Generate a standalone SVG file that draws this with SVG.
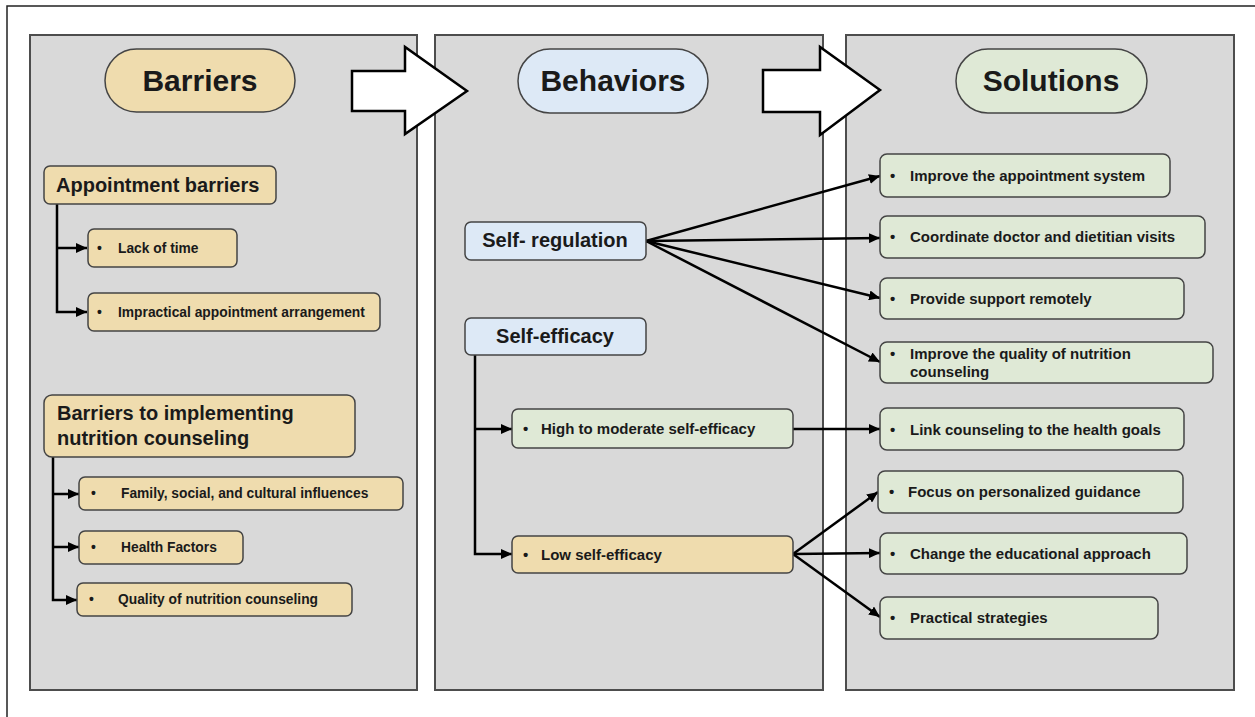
<svg xmlns="http://www.w3.org/2000/svg" width="1255" height="717" viewBox="0 0 1255 717">
<defs>
<style>
.panel{fill:#d9d9d9;stroke:#4d4d4d;stroke-width:2}
.tan{fill:#efdcae;stroke:#444;stroke-width:1.5}
.blue{fill:#dde9f6;stroke:#444;stroke-width:1.5}
.green{fill:#dfe9d6;stroke:#444;stroke-width:1.5}
.big{font-family:"Liberation Sans",Arial,sans-serif;font-weight:bold;font-size:30px;fill:#1a1a1a;text-anchor:middle}
.hd{font-family:"Liberation Sans",Arial,sans-serif;font-weight:bold;font-size:20px;fill:#1a1a1a}
.sm{font-family:"Liberation Sans",Arial,sans-serif;font-weight:bold;font-size:15px;fill:#1a1a1a}
.sm12{font-family:"Liberation Sans",Arial,sans-serif;font-weight:bold;font-size:13.8px;fill:#1a1a1a}
.con{fill:none;stroke:#000;stroke-width:2.5}
.blk{fill:#fff;stroke:#000;stroke-width:2.5;stroke-linejoin:miter}
</style>
<marker id="ah" markerUnits="userSpaceOnUse" markerWidth="12" markerHeight="10" refX="11" refY="5" orient="auto">
<path d="M0,0 L11,5 L0,10 z" fill="#000"/>
</marker>
</defs>
<rect width="1255" height="717" fill="#fff"/>
<path d="M7,717 V6 H1255" fill="none" stroke="#222" stroke-width="1.5"/>

<g id="panels">
<rect class="panel" x="30" y="35" width="387" height="655"/>
<rect class="panel" x="435" y="35" width="388" height="655"/>
<rect class="panel" x="846" y="35" width="388" height="655"/>
</g>

<g id="block-arrows">
<polygon class="blk" points="352,71 405,71 405,47 467,91 405,134 405,111 352,111"/>
<polygon class="blk" points="763,70 820,70 820,47 880,90 820,135 820,112 763,112"/>
</g>

<g id="hdr-barriers"><rect class="tan" x="105" y="49" width="190" height="63" rx="31.5"/><text class="big" x="200" y="91">Barriers</text></g>
<g id="hdr-behaviors"><rect class="blue" x="518" y="49" width="190" height="64" rx="32"/><text class="big" x="613" y="91" font-size="29">Behaviors</text></g>
<g id="hdr-solutions"><rect class="green" x="956" y="49" width="191" height="64" rx="32"/><text class="big" x="1051" y="91">Solutions</text></g>

<g id="connectors">
<path class="con" d="M57,204 V312 H87" marker-end="url(#ah)"/>
<path class="con" d="M57,248 H87" marker-end="url(#ah)"/>
<path class="con" d="M53,457 V600 H77" marker-end="url(#ah)"/>
<path class="con" d="M53,494 H79" marker-end="url(#ah)"/>
<path class="con" d="M53,547 H79" marker-end="url(#ah)"/>
<path class="con" d="M475,355 V554 H512" marker-end="url(#ah)"/>
<path class="con" d="M475,429 H512" marker-end="url(#ah)"/>
<path class="con" d="M646,241 L880,176" marker-end="url(#ah)"/>
<path class="con" d="M646,241 L880,238" marker-end="url(#ah)"/>
<path class="con" d="M646,241 L880,298" marker-end="url(#ah)"/>
<path class="con" d="M646,241 L880,362" marker-end="url(#ah)"/>
<path class="con" d="M793,429 L880,429" marker-end="url(#ah)"/>
<path class="con" d="M793,554 L878,492" marker-end="url(#ah)"/>
<path class="con" d="M793,554 L880,553" marker-end="url(#ah)"/>
<path class="con" d="M793,554 L880,617" marker-end="url(#ah)"/>
</g>

<g id="appointment-barriers"><rect class="tan" x="44" y="166" width="232" height="38" rx="6"/><text class="hd" x="56" y="192">Appointment barriers</text></g>
<g id="lack-of-time"><rect class="tan" x="88" y="229" width="149" height="38" rx="6"/><text class="sm12" x="97" y="253">•</text><text class="sm12" x="118" y="253">Lack of time</text></g>
<g id="impractical"><rect class="tan" x="88" y="293" width="292" height="38" rx="6"/><text class="sm12" x="97" y="317">•</text><text class="sm12" x="118" y="317">Impractical appointment arrangement</text></g>
<g id="barriers-implementing"><rect class="tan" x="44" y="395" width="311" height="62" rx="8"/><text class="hd" x="57" y="420" font-size="21">Barriers to implementing</text><text class="hd" x="57" y="445" font-size="21">nutrition counseling</text></g>
<g id="family"><rect class="tan" x="79" y="477" width="324" height="33" rx="6"/><text class="sm12" x="91" y="498">•</text><text class="sm12" x="121" y="498">Family, social, and cultural influences</text></g>
<g id="health"><rect class="tan" x="79" y="531" width="164" height="33" rx="6"/><text class="sm12" x="91" y="552">•</text><text class="sm12" x="121" y="552">Health Factors</text></g>
<g id="quality"><rect class="tan" x="77" y="583" width="275" height="33" rx="6"/><text class="sm12" x="89" y="604">•</text><text class="sm12" x="118" y="604">Quality of nutrition counseling</text></g>

<g id="self-regulation"><rect class="blue" x="465" y="222" width="181" height="38" rx="6"/><text class="hd" x="555" y="247" text-anchor="middle" font-size="18">Self- regulation</text></g>
<g id="self-efficacy"><rect class="blue" x="465" y="318" width="181" height="37" rx="6"/><text class="hd" x="555" y="343" text-anchor="middle" font-size="18">Self-efficacy</text></g>
<g id="high-moderate"><rect class="green" x="512" y="409" width="281" height="39" rx="6"/><text class="sm" x="523" y="434">•</text><text class="sm" x="541" y="434">High to moderate self-efficacy</text></g>
<g id="low"><rect class="tan" x="512" y="536" width="281" height="37" rx="6"/><text class="sm" x="523" y="560">•</text><text class="sm" x="541" y="560">Low self-efficacy</text></g>

<g id="improve-appointment"><rect class="green" x="880" y="154" width="290" height="43" rx="7"/><text class="sm" x="890" y="181">•</text><text class="sm" x="910" y="181">Improve the appointment system</text></g>
<g id="coordinate"><rect class="green" x="880" y="216" width="325" height="42" rx="7"/><text class="sm" x="890" y="242">•</text><text class="sm" x="910" y="242">Coordinate doctor and dietitian visits</text></g>
<g id="provide"><rect class="green" x="880" y="278" width="304" height="41" rx="7"/><text class="sm" x="890" y="304">•</text><text class="sm" x="910" y="304">Provide support remotely</text></g>
<g id="improve-quality"><rect class="green" x="880" y="342" width="333" height="41" rx="7"/><text class="sm" x="890" y="359">•</text><text class="sm" x="910" y="359">Improve the quality of nutrition</text><text class="sm" x="910" y="377">counseling</text></g>
<g id="link"><rect class="green" x="880" y="408" width="304" height="42" rx="7"/><text class="sm" x="890" y="435">•</text><text class="sm" x="910" y="435">Link counseling to the health goals</text></g>
<g id="focus"><rect class="green" x="878" y="471" width="305" height="42" rx="7"/><text class="sm" x="889" y="497">•</text><text class="sm" x="908" y="497">Focus on personalized guidance</text></g>
<g id="change"><rect class="green" x="880" y="533" width="307" height="41" rx="7"/><text class="sm" x="890" y="559">•</text><text class="sm" x="910" y="559">Change the educational approach</text></g>
<g id="practical"><rect class="green" x="880" y="597" width="278" height="42" rx="7"/><text class="sm" x="890" y="623">•</text><text class="sm" x="910" y="623">Practical strategies</text></g>
</svg>
